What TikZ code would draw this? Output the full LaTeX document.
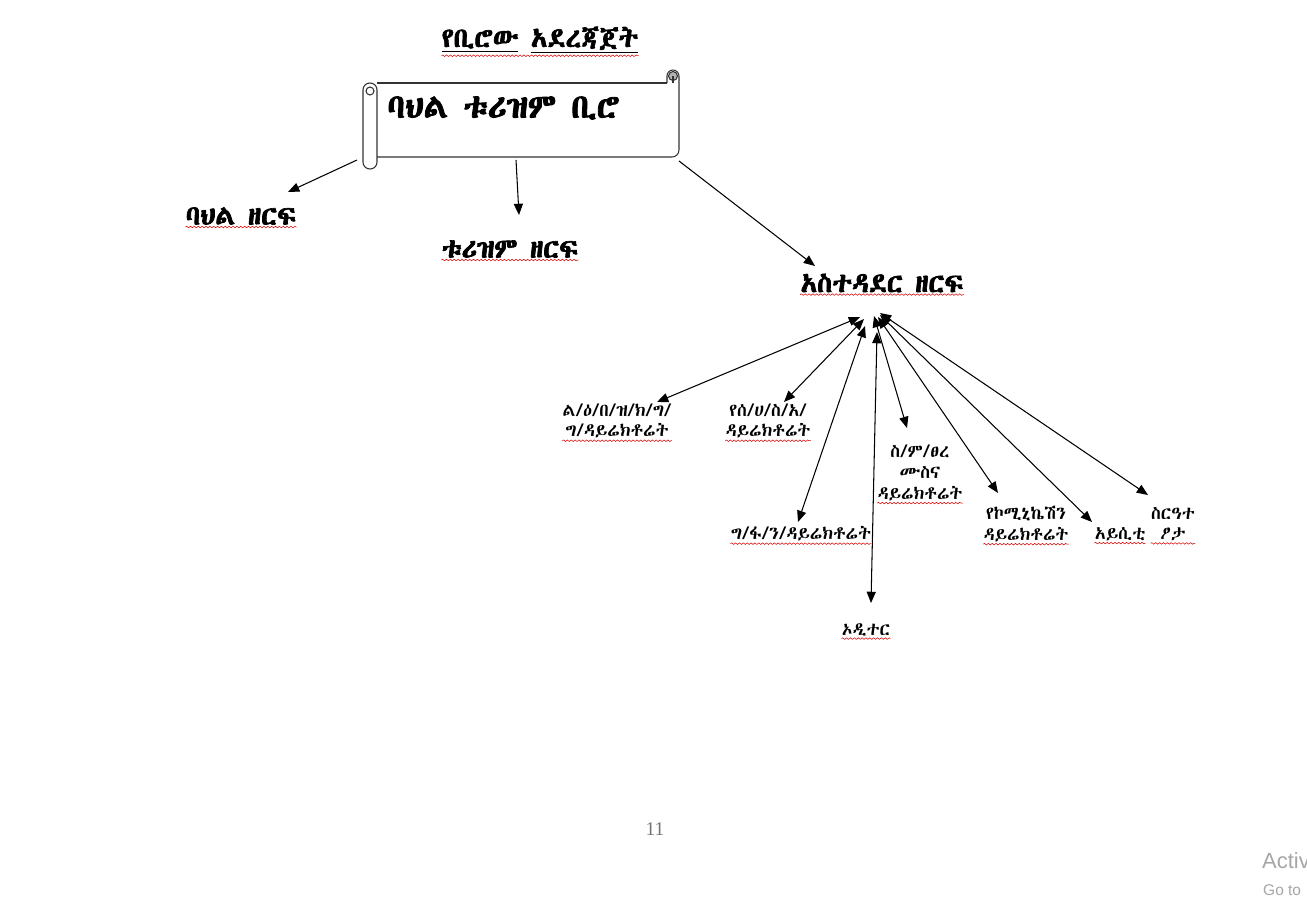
\documentclass[tikz,border=0pt]{standalone}
\usepackage{fontspec}
\usetikzlibrary{arrows.meta,calc,decorations.pathmorphing}
\IfFontExistsTF{Abyssinica SIL}{%
  \newfontfamily\ethfont{Abyssinica SIL}[BoldFont={Abyssinica SIL}, BoldFeatures={FakeBold=2.5}]}{%
  \IfFontExistsTF{FreeSerif}{\newfontfamily\ethfont{FreeSerif}}{%
    \newfontfamily\ethfont{DejaVu Sans}}}
\newfontfamily\pagefont{Liberation Serif}
\newfontfamily\winfont{Liberation Sans}

\begin{document}
\begin{tikzpicture}[
  x=0.02cm, y=-0.02cm,
  head/.style={font=\ethfont\bfseries\fontsize{15.5}{18}\selectfont, inner sep=0pt},
  unit/.style={font=\ethfont\fontsize{10.2}{11.8}\selectfont, align=center, inner sep=0pt},
  arrow/.style={-{Triangle[length=6.4pt,width=5.2pt]}, line width=0.6pt},
  both/.style={{Triangle[length=6.4pt,width=5.2pt]}-{Triangle[length=6.4pt,width=5.2pt]}, line width=0.6pt},
  squig/.style={red!85!black, line width=0.3pt, decorate, decoration={snake, amplitude=0.45pt, segment length=2.2pt}},
  scroll/.style={line width=0.6pt, draw=black!80}
]
\useasboundingbox[fill=white] (0,0) rectangle (1307,920);

% Title
\node[head] (title) at (540,40) {\underline{የቢሮው} \underline{አደረጃጀት}};

% Scroll
\draw[scroll] (377,83) -- (667,83);
\draw[scroll, rounded corners=4pt] (679,76) -- (679,157) -- (377,157);
\draw[scroll] (667,83) -- (667,76) arc (180:360:6);
\filldraw[scroll, fill=black!30] (673,76) circle (4.5);
\draw[scroll] (673,76) -- (673,83);
\filldraw[scroll, fill=white, rounded corners=3.9pt] (363,83) rectangle (377,169);
\draw[scroll] (370,91) circle (4);
\node[head, font=\ethfont\bfseries\fontsize{19}{22}\selectfont, anchor=west] (bureau) at (387,108) {ባህል ቱሪዝም ቢሮ};

% Sectors
\node[head] (b1) at (241,216) {ባህል ዘርፍ};
\node[head] (b2) at (510,249) {ቱሪዝም ዘርፍ};
\node[head] (b3) at (882,283) {አስተዳደር ዘርፍ};

\coordinate (s1) at (357,160);
\coordinate (s2) at (516,160);
\coordinate (s3) at (679,161);
\draw[arrow] (s1) -- ($(b1)+(47,-24)$);
\draw[arrow] (s2) -- ($(b2)+(9,-34)$);
\draw[arrow] (s3) -- ($(b3)+(-67,-17)$);

% Directorates
\node[unit] (l1) at (617,421) {ል/ዕ/በ/ዝ/ክ/ግ/\\ግ/ዳይሬክቶሬት};
\node[unit] (l2) at (768,421) {የሰ/ሀ/ስ/አ/\\ዳይሬክቶሬት};
\node[unit] (l3) at (801,534) {ግ/ፋ/ን/ዳይሬክቶሬት};
\node[unit] (l4) at (866,630) {ኦዲተር};
\node[unit] (l5) at (920,473) {ስ/ም/ፀረ\\ሙስና\\ዳይሬክቶሬት};
\node[unit] (l6) at (1026,524) {የኮሚኒኬሽን\\ዳይሬክቶሬት};
\node[unit] (l7) at (1120,534) {አይሲቲ};
\node[unit] (l8) at (1173,524) {ስርዓተ\\ፆታ};

\coordinate (hub) at (868,312);
\draw[both] ($(hub)+(-8,5)$) -- ($(l1)+(40,-19)$);
\draw[both] ($(hub)+(-4,7)$) -- ($(l2)+(16,-19)$);
\draw[both] ($(hub)+(-3,14)$) -- ($(l3)+(-3,-12)$);
\draw[both] ($(hub)+(9,20)$) -- ($(l4)+(5,-27)$);
\draw[both] ($(hub)+(6,4)$) -- ($(l5)+(-13,-45)$);
\draw[both] ($(hub)+(10,5)$) -- ($(l6)+(-28,-31)$);
\draw[both] ($(hub)+(12,3)$) -- ($(l7)+(-28,-12)$);
\draw[both] ($(hub)+(12,1)$) -- ($(l8)+(-25,-29)$);

% Spelling marks
\foreach \n in {title,b1,b2,b3,l1,l2,l3,l4,l5,l6,l7,l8}
  \draw[squig] ($(\n.south west)+(0,2)$) -- ($(\n.south east)+(0,2)$);

% Page
\node[font=\pagefont\fontsize{11}{12}\selectfont, text=black!55] (page) at (655,829) {11};
\node[font=\winfont\fontsize{12.5}{13}\selectfont, text=black!35, anchor=west] (act) at (1256,861) {Activ};
\node[font=\winfont\fontsize{8.8}{10}\selectfont, text=black!35, anchor=west] (goto) at (1257,890) {Go to};
\end{tikzpicture}
\end{document}
